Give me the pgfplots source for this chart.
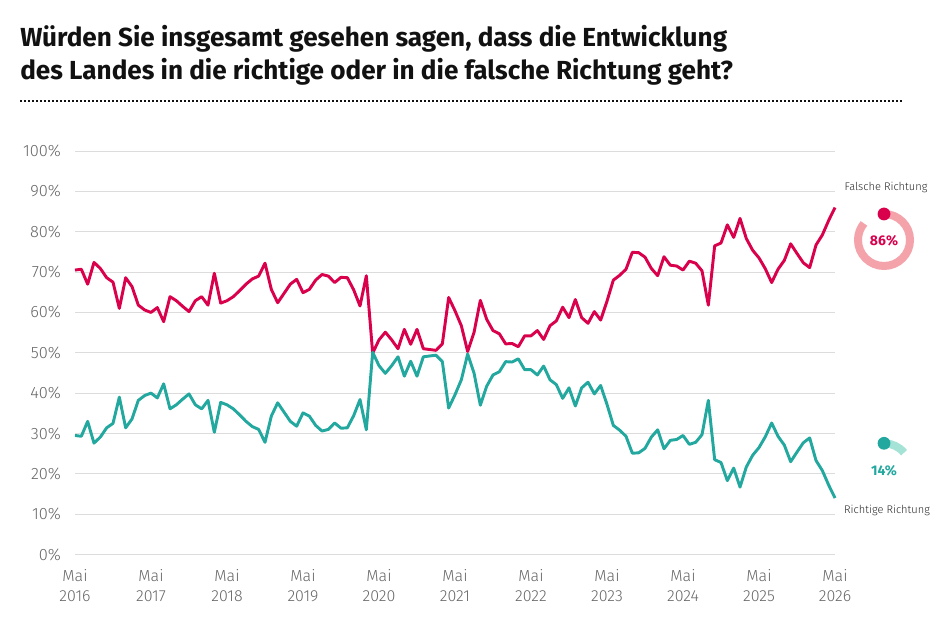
\documentclass[border=0pt]{standalone}
\usepackage{fontspec}
\setmainfont{Fira Sans}
\newfontfamily\lightfont{Fira Sans Light}
\usepackage{pgfplots}
\usepackage{pgfplotstable}
\pgfplotsset{compat=1.18}
\definecolor{pinkline}{HTML}{D9004C}
\definecolor{lightpink}{HTML}{F4A3AB}
\definecolor{tealline}{HTML}{23A89F}
\definecolor{lightteal}{HTML}{A6E3D7}
\definecolor{titlecol}{HTML}{111111}
\definecolor{tickcol}{HTML}{666666}
\definecolor{gridcol}{HTML}{DCDCDC}

\pgfplotstableread{
m f r
0 70.5 29.5
1 70.7 29.3
2 67.0 33.0
3 72.4 27.6
4 70.9 29.1
5 68.6 31.4
6 67.5 32.5
7 61.0 39.0
8 68.6 31.4
9 66.4 33.6
10 61.8 38.2
11 60.6 39.4
12 60.0 40.0
13 61.2 38.8
14 57.7 42.3
15 63.9 36.1
16 62.9 37.1
17 61.5 38.5
18 60.2 39.8
19 62.9 37.1
20 63.9 36.1
21 61.8 38.2
22 69.7 30.3
23 62.3 37.7
24 62.9 37.1
25 63.9 36.1
26 65.4 34.6
27 67.0 33.0
28 68.3 31.7
29 69.0 31.0
30 72.2 27.8
31 65.7 34.3
32 62.4 37.6
33 64.7 35.3
34 67.0 33.0
35 68.2 31.8
36 64.9 35.1
37 65.7 34.3
38 68.0 32.0
39 69.4 30.6
40 69.0 31.0
41 67.4 32.6
42 68.7 31.3
43 68.6 31.4
44 65.6 34.4
45 61.6 38.4
46 69.1 30.9
47 49.9 50.1
48 53.2 46.8
49 55.1 44.9
50 53.2 46.8
51 51.0 49.0
52 55.8 44.2
53 52.1 47.9
54 55.8 44.2
55 51.0 49.0
56 50.8 49.2
57 50.6 49.4
58 52.2 47.8
59 63.7 36.3
60 60.4 39.6
61 56.7 43.3
62 50.3 49.7
63 55.0 45.0
64 63.0 37.0
65 58.3 41.7
66 55.5 44.5
67 54.7 45.3
68 52.2 47.8
69 52.3 47.7
70 51.5 48.5
71 54.2 45.8
72 54.2 45.8
73 55.5 44.5
74 53.3 46.7
75 56.7 43.3
76 57.9 42.1
77 61.3 38.7
78 58.7 41.3
79 63.2 36.8
80 58.7 41.3
81 57.3 42.7
82 60.2 39.8
83 58.1 41.9
84 62.8 37.2
85 68.0 32.0
86 69.2 30.8
87 70.7 29.3
88 74.9 25.1
89 74.8 25.2
90 73.7 26.3
91 70.9 29.1
92 69.1 30.9
93 73.8 26.2
94 71.7 28.3
95 71.5 28.5
96 70.5 29.5
97 72.7 27.3
98 72.2 27.8
99 70.3 29.7
100 61.8 38.2
101 76.5 23.5
102 77.2 22.8
103 81.7 18.3
104 78.6 21.4
105 83.3 16.7
106 78.3 21.7
107 75.4 24.6
108 73.5 26.5
109 70.8 29.2
110 67.4 32.6
111 70.7 29.3
112 72.9 27.1
113 77.0 23.0
114 74.6 25.4
115 72.3 27.7
116 71.1 28.9
117 76.7 23.3
118 79.2 20.8
119 82.8 17.2
120 86.0 14.0
}\datatable

\begin{document}
\begin{tikzpicture}
\begin{scope}[x=0.75pt,y=0.75pt]
\useasboundingbox (0,0) rectangle (952,634);
\node[anchor=base west, inner sep=0, text=titlecol, font=\bfseries\fontsize{19.6}{22}\selectfont] at (20,587) {Würden Sie insgesamt gesehen sagen, dass die Entwicklung};
\node[anchor=base west, inner sep=0, text=titlecol, font=\bfseries\fontsize{19.6}{22}\selectfont] at (20,554) {des Landes in die richtige oder in die falsche Richtung geht?};
\draw[titlecol, line width=1.2pt, dash pattern=on 1.2pt off 1.8pt] (20,533) -- (903,533);
% right annotations
\node[font=\lightfont\fontsize{8.3}{9}\selectfont, text=titlecol!90] at (886,447) {Falsche Richtung};
\draw[lightpink, line width=6pt] (884,420) arc[start angle=90, end angle=-219.6, radius=19.5pt];
\fill[pinkline] (884,420) circle[radius=4.8pt];
\node[font=\bfseries\fontsize{10.5}{12}\selectfont, text=pinkline] at (884,393) {86\%};
\draw[lightteal, line width=6pt] (884,190.7) arc[start angle=90, end angle=39.6, radius=19.5pt];
\fill[tealline] (884,190.7) circle[radius=4.8pt];
\node[font=\bfseries\fontsize{10.5}{12}\selectfont, text=tealline] at (884,163) {14\%};
\node[font=\lightfont\fontsize{8.3}{9}\selectfont, text=titlecol!90] at (887,124) {Richtige Richtung};
\end{scope}
\begin{axis}[
  at={(56.25pt,59.625pt)}, anchor=south west,
  scale only axis, width=570pt, height=302.6pt,
  xmin=0, xmax=120, ymin=0, ymax=100,
  clip=false,
  axis line style={draw=none},
  major tick style={draw=none},
  ymajorgrids, grid style={gridcol, line width=0.7pt},
  ytick={0,10,...,100},
  yticklabel={\pgfmathprintnumber{\tick}\%},
  yticklabel style={font=\lightfont\fontsize{12.3}{13}\selectfont, text=tickcol, xshift=-7pt},
  xtick={0,12,...,120},
  xticklabels={Mai\\2016,Mai\\2017,Mai\\2018,Mai\\2019,Mai\\2020,Mai\\2021,Mai\\2022,Mai\\2023,Mai\\2024,Mai\\2025,Mai\\2026},
  xticklabel style={align=center, font=\lightfont\fontsize{12}{15}\selectfont, text=tickcol, yshift=-8pt},
  /pgf/number format/assume math mode=true,
]
\addplot[pinkline, line width=2.2pt, line join=round, no markers] table[x=m, y=f] {\datatable};
\addplot[tealline, line width=2.2pt, line join=round, no markers] table[x=m, y=r] {\datatable};
\end{axis}
\end{tikzpicture}
\end{document}
